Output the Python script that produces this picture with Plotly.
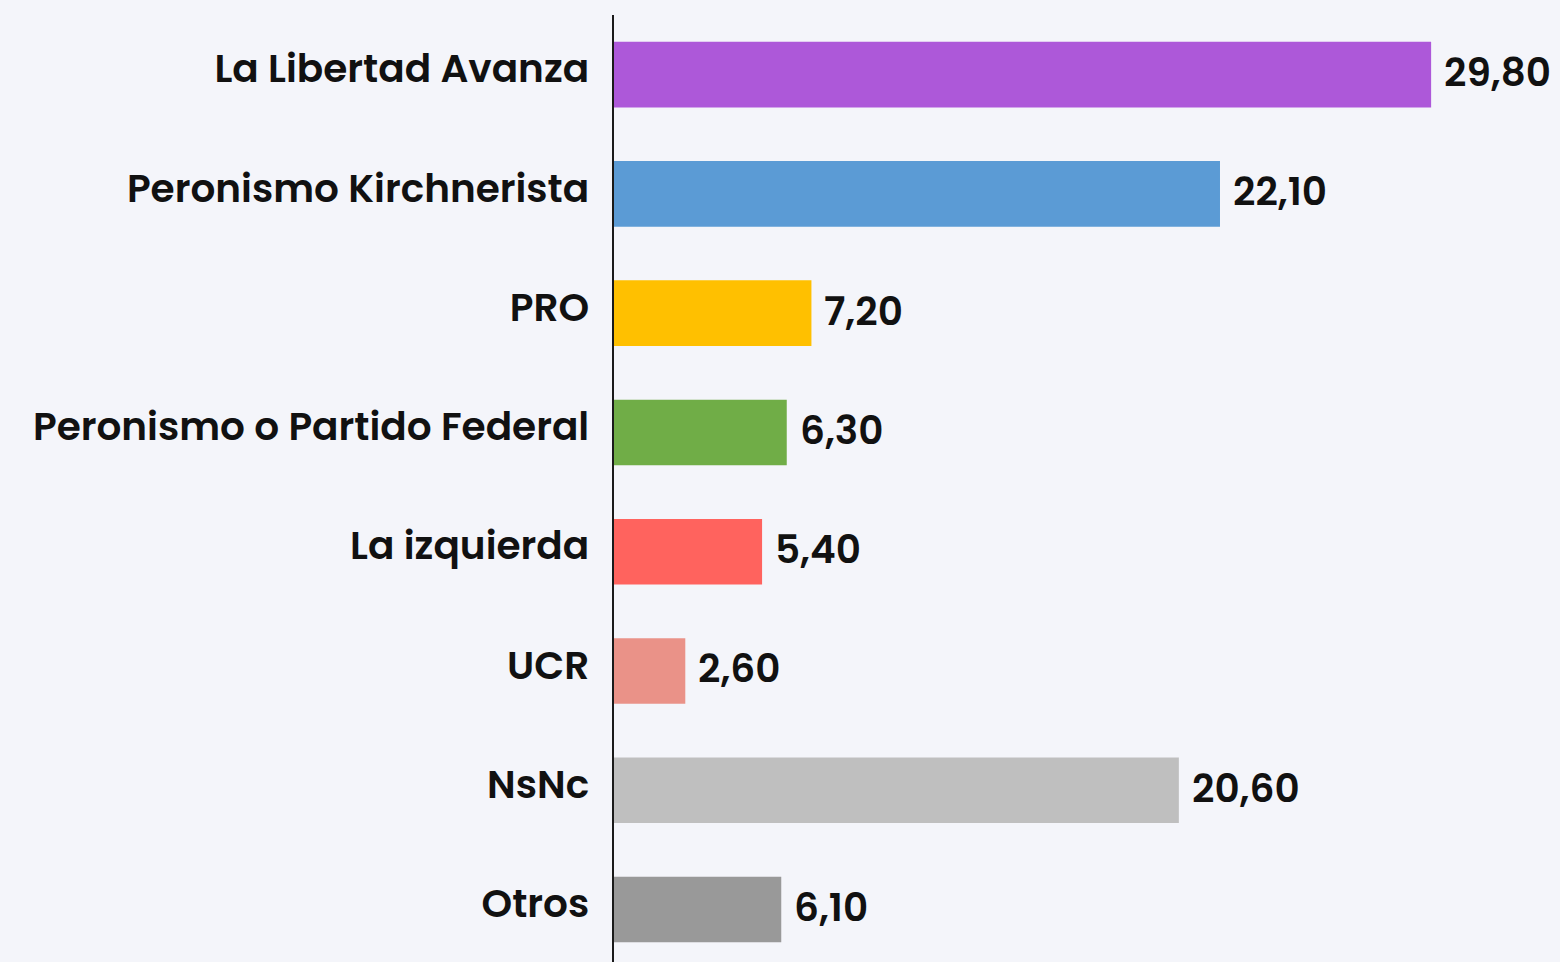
import plotly.graph_objects as go

categories = ["La Libertad Avanza", "Peronismo Kirchnerista", "PRO",
              "Peronismo o Partido Federal", "La izquierda", "UCR", "NsNc", "Otros"]
values = [29.80, 22.10, 7.20, 6.30, 5.40, 2.60, 20.60, 6.10]
colors = ["#AD58D9", "#5B9BD5", "#FFC000", "#70AD47", "#FF635E", "#EA9288", "#BFBFBF", "#999999"]

BG = "#F4F5FA"
FONT = "Poppins, Lato, 'Open Sans', sans-serif"

fig = go.Figure()
fig.add_trace(go.Bar(
    x=values, y=categories, orientation="h",
    marker=dict(color=colors, line=dict(width=0)),
    width=0.55, hoverinfo="skip",
))

for c, v in zip(categories, values):
    fig.add_annotation(
        x=v, y=c, xref="x", yref="y",
        text=f"{v:.2f}".replace(".", ","),
        showarrow=False, xanchor="left", xshift=11, yshift=2,
        font=dict(family=FONT, size=39, color="#111111", weight=600),
    )

fig.update_layout(
    width=1560, height=962,
    margin=dict(l=614, r=0, t=15, b=0),
    paper_bgcolor=BG, plot_bgcolor=BG,
    showlegend=False,
    separators=",.",
)
fig.update_xaxes(range=[0, 34.5], visible=False, showgrid=False, zeroline=False)
fig.update_yaxes(
    type="category", categoryorder="array", categoryarray=categories,
    range=[7.44, -0.5],
    showline=True, linecolor="#1A1A1A", linewidth=2,
    showgrid=False, zeroline=False, ticks="",
    ticklabelstandoff=15, ticklabelshift=6,
    tickfont=dict(family=FONT, size=39, color="#111111", weight=600),
)

fig.write_html(
    "out.html",
    config={"displayModeBar": False},
    post_script="document.body.style.margin='0';document.body.style.background='#F4F5FA';",
)
